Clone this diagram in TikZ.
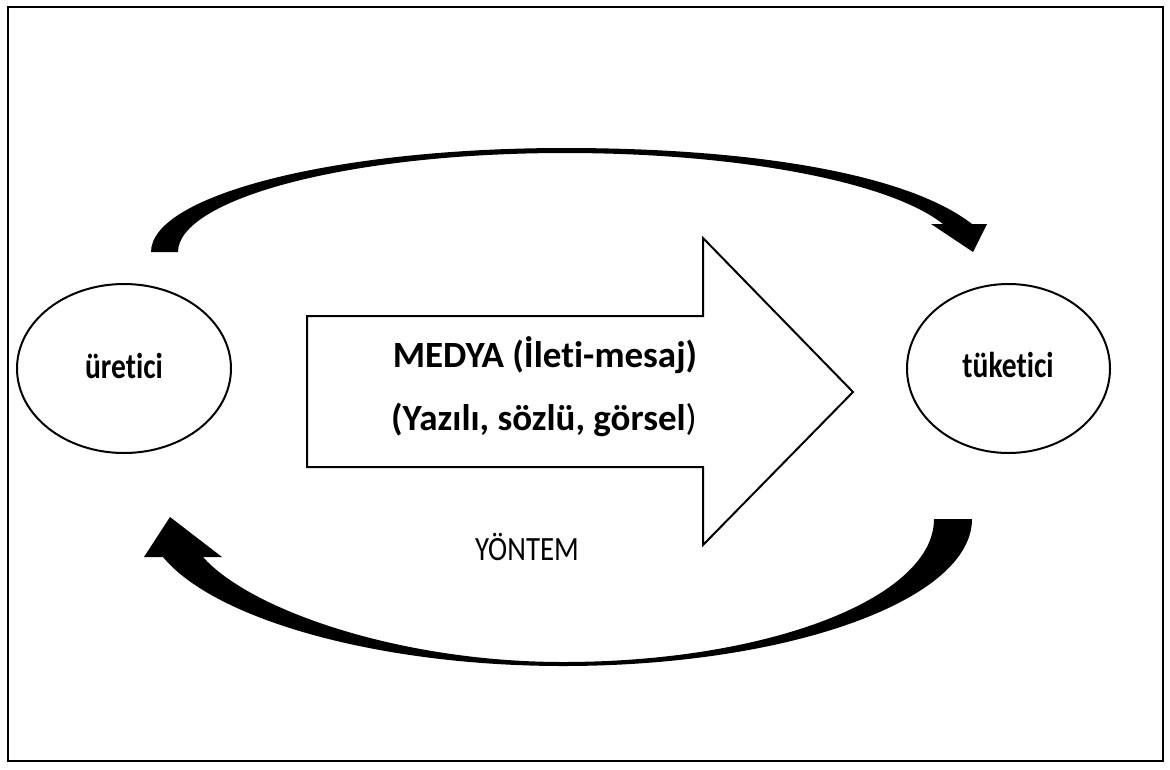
\documentclass[tikz,border=0pt]{standalone}
\usepackage{fontspec}
\setmainfont{Carlito}[RawFeature={-liga}]
\usetikzlibrary{shapes.geometric}
\tikzset{
  bubble/.style={ellipse, draw=black, line width=2pt, inner sep=0pt},
  bubbletext/.style={font=\bfseries\fontsize{36}{40}\selectfont, anchor=base, inner sep=0pt},
  bigtext/.style={font=\bfseries\fontsize{37}{42}\selectfont, anchor=base, inner sep=0pt},
  plaintext/.style={font=\fontsize{34}{38}\selectfont, anchor=base, inner sep=0pt},
  flow/.style={fill=black, draw=none},
  outline/.style={draw=black, line width=2pt, line join=miter}
}
\begin{document}
\begin{tikzpicture}[x=1pt, y=-1pt]
\useasboundingbox (0,0) rectangle (1170,769);
\draw[line width=2pt] (8,7) rectangle (1163,761);

% ellipses
\node[bubble, minimum width=214pt, minimum height=169pt] (ure) at (124,368.5) {};
\node[bubble, minimum width=203pt, minimum height=169pt] (tuk) at (1008.5,368.5) {};
\node[bubbletext] (uret) at (124,378) {\scalebox{0.82}[1]{üretici}};
\node[bubbletext] (tukt) at (1008,377) {\scalebox{0.82}[1]{tüketici}};

% big block arrow
\draw[outline] (307,316) -- (703,316) -- (703,238) -- (853,392) -- (703,545) -- (703,467) -- (307,467) -- cycle;
\node[bigtext] (medya) at (545,367) {MEDYA (İleti-mesaj)};
\node[bigtext] (tur) at (544,430) {(Yazılı, sözlü, görsel{\mdseries)}};
\node[plaintext] (yontem) at (527,560) {\scalebox{0.85}[1]{YÖNTEM}};

% top curved arrow (üretici -> tüketici)
\fill[flow] (151,252) .. controls (151,195) and (336,148) .. (565,148)
  .. controls (745,148) and (905,172) .. (972,224)
  -- (987,224) -- (973,252) -- (931,224) -- (943,224)
  .. controls (890,182) and (740,153) .. (565,153)
  .. controls (345,153) and (178,200) .. (178,252) -- cycle;

% bottom curved arrow (tüketici -> üretici)
\fill[flow] (972,519) .. controls (972,600) and (789,666) .. (563,666)
  .. controls (380,666) and (215,620) .. (163,557)
  -- (144,557) -- (170,517) -- (222,557) -- (203,557)
  .. controls (250,610) and (400,662) .. (563,662)
  .. controls (768,662) and (934,598) .. (934,519) -- cycle;
\end{tikzpicture}
\end{document}
